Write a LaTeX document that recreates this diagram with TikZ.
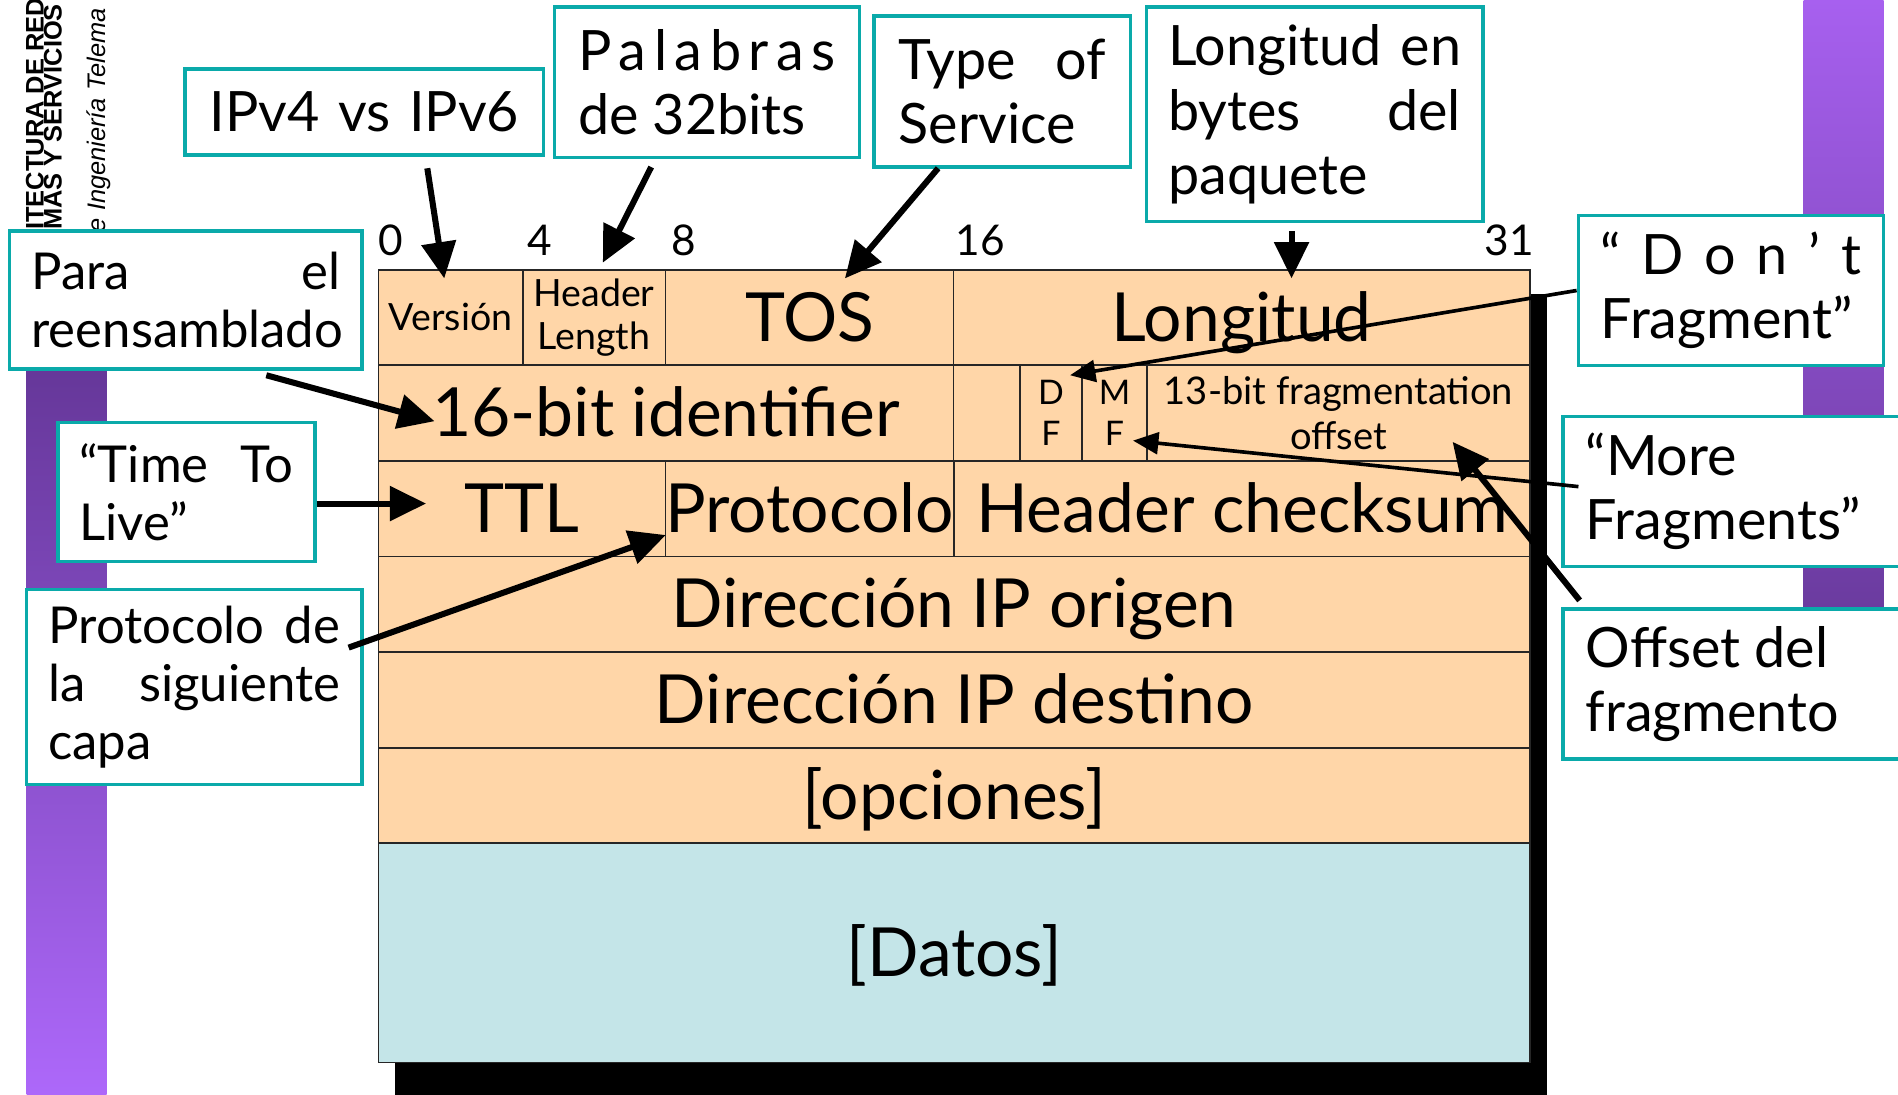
\documentclass[tikz,border=0pt]{standalone}
\usepackage{fontspec}
\setmainfont{Lato}
\newfontfamily\slidefont{Liberation Sans}
\usepackage{tikz}
\usetikzlibrary{positioning,chains,arrows.meta}

\definecolor{ippeach}{RGB}{255,214,168}
\definecolor{ipblue}{RGB}{196,229,232}
\definecolor{noteteal}{RGB}{10,170,170}
\definecolor{bardark}{RGB}{88,46,135}
\definecolor{barlight}{RGB}{173,104,250}
\definecolor{barpale}{RGB}{167,96,239}
\definecolor{bardeep}{RGB}{100,55,150}

\newcommand{\fieldbig}{\fontsize{56}{60}\selectfont}
\newcommand{\fieldsmall}{\fontsize{31}{35}\selectfont}
\newcommand{\fieldtiny}{\fontsize{28}{34}\selectfont}
\newcommand{\fieldfrag}{\fontsize{31.5}{37}\selectfont}
\newcommand{\bitfont}{\fontsize{35}{38}\selectfont}
\newcommand{\notefont}{\fontsize{46}{53}\selectfont}
\newcommand{\noteleft}{\fontsize{42}{48}\selectfont}

\begin{document}
\begin{tikzpicture}[x=1pt,y=-1pt]
	\useasboundingbox (0,0) rectangle (1568,904);
	\clip (0,0) rectangle (1568,904);

	\edef\rowheight{79pt}
	\tikzstyle{ipfield}=[draw=black!85,line width=1.5pt,fill=ippeach,minimum height=\rowheight,inner sep=0pt]
	\tikzstyle{bigfield}=[ipfield,font=\fieldbig,text height=39pt,text depth=0pt]
	\tikzstyle{smallfield}=[ipfield,font=\fieldsmall,align=center]
	\tikzstyle{tinyfield}=[ipfield,font=\fieldtiny,align=center]
	\tikzstyle{callout}=[draw=noteteal,line width=3pt,fill=white,inner sep=0pt,align=flush left,font=\notefont]
	\tikzset{bigarrow/.style={line width=5pt,-{Triangle[length=30pt,width=28pt]}},
	         thinarrow/.style={line width=3pt,-{Triangle[length=21pt,width=18pt]}}}

	%% Slide background: side bars and header
	\shade[top color=bardark,bottom color=barlight] (22,190) rectangle (88,904);
	\shade[top color=barpale,bottom color=bardeep] (1490,0) rectangle (1556,560);
	\node[rotate=90,anchor=base west,inner sep=0pt,font={\slidefont\bfseries\fontsize{21}{24}\selectfont}] (hdrone) at (36,190) {ITECTURA DE RED};
	\node[rotate=90,anchor=base west,inner sep=0pt,font={\slidefont\bfseries\fontsize{21}{24}\selectfont}] (hdrtwo) at (51,190) {MAS Y SERVICIOS};
	\node[rotate=90,anchor=base west,inner sep=0pt,font={\slidefont\itshape\fontsize{21}{24}\selectfont}] (hdrthree) at (87,192) {e Ingeniería Telema};

	%% Shadow of the header
	\fill[black] (326,243) rectangle (1278,910);

	%% Bit positions
	\foreach \pos/\bit in {323/0,446/4,565/8,810/16,1247/31}
	    \node[anchor=base,font=\bitfont] (bit\bit) at (\pos,211) {\bit};

	%% Draw IP header, one chain per row
	\begin{scope}[start chain=r1 going right,node distance=-1.5pt]
	    \node[on chain=r1,smallfield,minimum width=119pt,anchor=north west] (version) at (312,222) {Versión};
	    \node[on chain=r1,smallfield,minimum width=118pt] (hlen) {Header\\Length};
	    \node[on chain=r1,bigfield,minimum width=238pt] (tos) {TOS};
	    \node[on chain=r1,bigfield,minimum width=476pt] (totlen) {Longitud};
	\end{scope}
	\begin{scope}[start chain=r2 going right,node distance=-1.5pt]
	    \node[on chain=r2,bigfield,minimum width=475pt,anchor=north west] (ident) at (312,301) {16-bit identifier};
	    \node[on chain=r2,ipfield,minimum width=55pt] (resv) {};
	    \node[on chain=r2,tinyfield,minimum width=51pt] (dfbit) {D\\F};
	    \node[on chain=r2,tinyfield,minimum width=54pt] (mfbit) {M\\F};
	    \node[on chain=r2,ipfield,font=\fieldfrag,align=center,minimum width=316pt] (fragoff) {13-bit fragmentation\\offset};
	\end{scope}
	\begin{scope}[start chain=r3 going right,node distance=-1.5pt]
	    \node[on chain=r3,bigfield,minimum width=237pt,anchor=north west] (ttl) at (312,380) {TTL};
	    \node[on chain=r3,bigfield,minimum width=238pt] (proto) {Protocolo};
	    \node[on chain=r3,bigfield,minimum width=476pt] (csum) {Header checksum};
	\end{scope}
	\begin{scope}[start chain=r4 going below,node distance=-1.5pt]
	    \node[on chain=r4,bigfield,minimum width=951pt,anchor=north west] (srcip) at (312,459) {Dirección IP origen};
	    \node[on chain=r4,bigfield,minimum width=951pt] (dstip) {Dirección IP destino};
	    \node[on chain=r4,bigfield,minimum width=951pt] (opts) {[opciones]};
	    \node[on chain=r4,bigfield,minimum width=951pt,minimum height=181pt,fill=ipblue] (data) {[Datos]};
	\end{scope}

	%% Notes
	\node[callout,align=center,minimum width=296pt,minimum height=71pt,text width=258pt] (ipvnote) at (301,92.5) {IPv4 vs IPv6};
	\node[callout,minimum width=252pt,minimum height=124pt,text width=213pt] (wordnote) at (584,68) {P\hfill a\hfill l\hfill a\hfill b\hfill r\hfill a\hfill s\\de 32bits};
	\node[callout,minimum width=212pt,minimum height=125pt,text width=171pt] (tosnote) at (828,75.5) {Type\hfill of\\Service};
	\node[callout,minimum width=278pt,minimum height=177pt,text width=242pt] (lennote) at (1086,94.5) {Longitud\hfill en\\bytes\hfill del\\paquete};
	\node[callout,font=\noteleft,minimum width=291pt,minimum height=114pt,text width=255pt] (reasmnote) at (153.5,248) {Para\hfill el\\reensamblado};
	\node[callout,font=\noteleft,minimum width=212pt,minimum height=115pt,text width=177pt] (ttlnote) at (154,406.5) {“Time\hfill To\\Live”};
	\node[callout,font=\noteleft,minimum width=277pt,minimum height=161pt,text width=241pt] (protnote) at (160.5,567.5) {Protocolo\hfill de\\la\hfill siguiente\\capa};
	\node[callout,minimum width=252pt,minimum height=124pt,text width=215pt] (dfnote) at (1430,240) {“\hfill D\hfill o\hfill n\hfill ’\hfill t\\Fragment”};
	\node[callout,minimum width=289pt,minimum height=124pt,text width=251pt] (mfnote) at (1435.5,406) {“More\\Fragments”};
	\node[callout,minimum width=289pt,minimum height=124pt,text width=251pt] (offnote) at (1435.5,565) {Offset del\\fragmento};

	%% Arrows from the notes
	\coordinate (vertail) at (353,139);
	\coordinate (vertip) at (367,230);
	\coordinate (hltail) at (538,138);
	\coordinate (hltip) at (498,217);
	\coordinate (tostail) at (775,139);
	\coordinate (tostip) at (698,230);
	\coordinate (lentail) at (1067,191);
	\coordinate (lentip) at (1067,230);
	\coordinate (idtail) at (220,310);
	\coordinate (idtip) at (359,348);
	\coordinate (ttltip) at (352,416);
	\coordinate (prottail) at (288,535);
	\coordinate (prottip) at (550,442);
	\coordinate (dftip) at (884,310);
	\coordinate (mftail) at (1304,402);
	\coordinate (mftip) at (936,364);
	\coordinate (offtail) at (1305,496);
	\coordinate (offtip) at (1200,365);

	\draw[bigarrow] (vertail) -- (vertip);
	\draw[bigarrow] (hltail) -- (hltip);
	\draw[bigarrow] (tostail) -- (tostip);
	\draw[bigarrow] (lentail) -- (lentip);
	\draw[bigarrow] (idtail) -- (idtip);
	\draw[bigarrow] (ttlnote.east |- ttltip) -- (ttltip);
	\draw[bigarrow] (prottail) -- (prottip);
	\draw[thinarrow] (dfnote.west) -- (dftip);
	\draw[thinarrow] (mftail) -- (mftip);
	\draw[bigarrow] (offtail) -- (offtip);
\end{tikzpicture}
\end{document}
